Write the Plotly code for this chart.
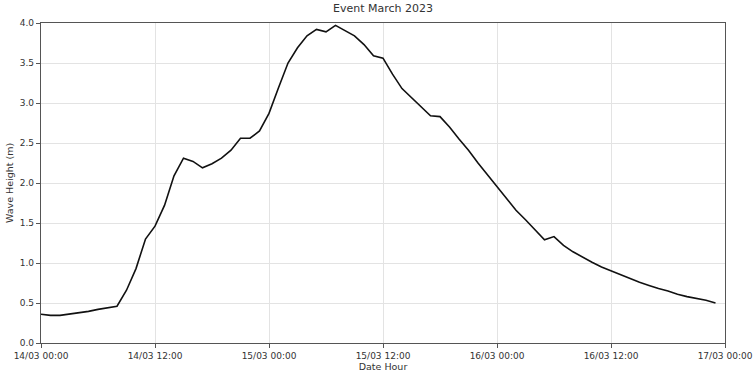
import plotly.graph_objects as go
import pandas as pd

start_time = "2023-03-14 00:00"
hours = list(range(72))
wave_height = [
    0.36, 0.345, 0.345, 0.36, 0.375, 0.395, 0.42, 0.44, 0.46, 0.66,
    0.93, 1.30, 1.46, 1.72, 2.09, 2.31, 2.27, 2.19, 2.24, 2.31,
    2.41, 2.56, 2.56, 2.65, 2.87, 3.19, 3.50, 3.69, 3.84, 3.92,
    3.89, 3.97, 3.91, 3.84, 3.73, 3.59, 3.56, 3.36, 3.18, 3.07,
    2.95, 2.84, 2.83, 2.70, 2.55, 2.41, 2.25, 2.10, 1.95, 1.80,
    1.66, 1.54, 1.41, 1.29, 1.33, 1.22, 1.14, 1.07, 1.01, 0.95,
    0.90, 0.85, 0.80, 0.76, 0.72, 0.68, 0.65, 0.61, 0.58, 0.56,
    0.535, 0.50,
]
title_text = "Event March 2023"
x_title = "Date Hour"
y_title = "Wave Height (m)"

times = pd.Timestamp(start_time) + pd.to_timedelta(hours, unit="h")

fig = go.Figure()
fig.add_trace(go.Scatter(x=times, y=wave_height, mode="lines",
                         line=dict(color="#111111", width=1.6), showlegend=False))

font_family = "DejaVu Sans"
fig.update_layout(
    width=753, height=372,
    margin=dict(l=41, r=28, t=23, b=29, autoexpand=False),
    paper_bgcolor="white", plot_bgcolor="white",
    font=dict(family=font_family, size=9, color="#333333"),
    title=dict(text=title_text, x=0.5, xref="paper", xanchor="center",
               y=1, yref="container", yanchor="top", pad=dict(t=4),
               font=dict(size=11, color="#333333")),
)
fig.update_xaxes(
    type="date", automargin=False,
    range=[pd.Timestamp("2023-03-14 00:00"), pd.Timestamp("2023-03-17 00:00")],
    dtick=12 * 3600 * 1000, tick0="2023-03-14 00:00",
    tickformat="%d/%m %H:%M",
    showgrid=True, gridcolor="#e3e3e3", gridwidth=1,
    showline=True, linecolor="#555555", linewidth=1.2, mirror=True,
    ticks="outside", ticklen=4, tickcolor="#555555",
    title=dict(text=x_title, standoff=3, font=dict(size=9.5)),
    zeroline=False,
)
fig.update_yaxes(
    range=[0, 4], dtick=0.5, tickformat=".1f", automargin=False,
    showgrid=True, gridcolor="#e3e3e3", gridwidth=1,
    showline=True, linecolor="#555555", linewidth=1.2, mirror=True,
    ticks="outside", ticklen=4, tickcolor="#555555",
    title=dict(text=y_title, standoff=4, font=dict(size=9.5)),
    zeroline=False,
)

fig.write_html("out.html",
               config={"displayModeBar": False},
               post_script="document.body.style.margin='0';document.body.style.overflow='hidden';")
